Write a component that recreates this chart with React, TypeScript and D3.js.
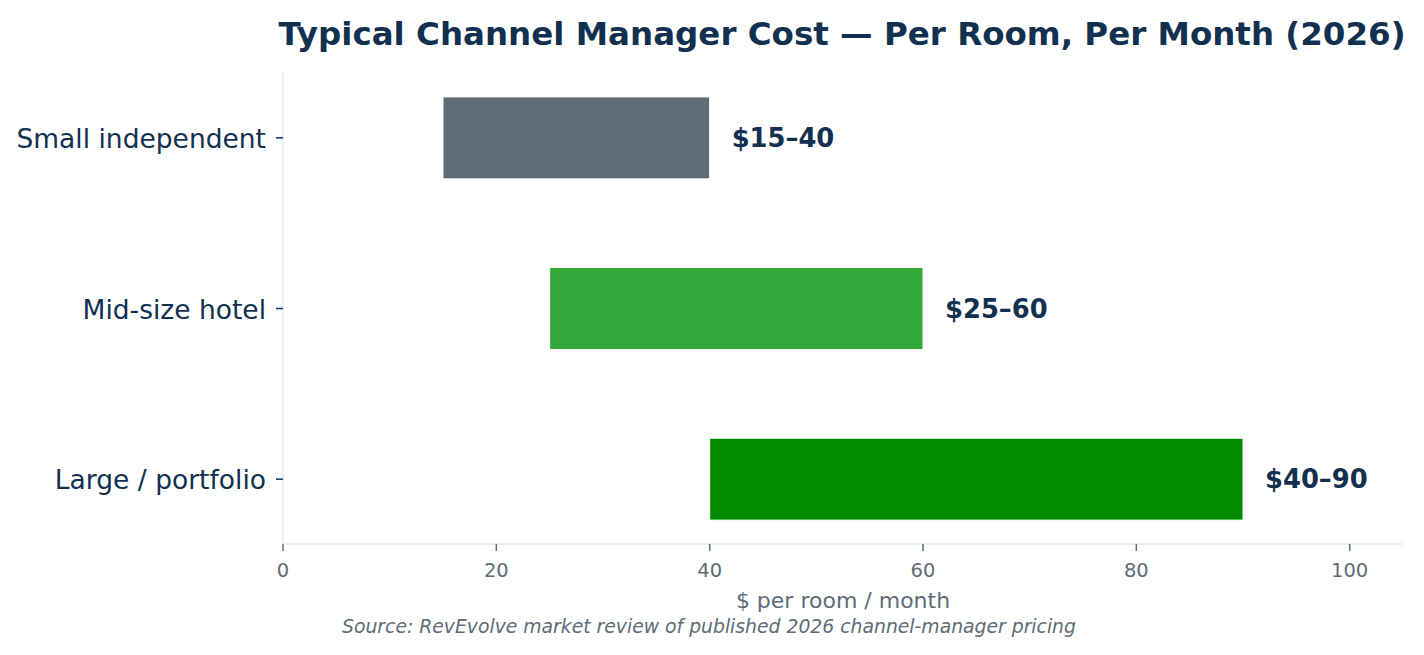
import React from 'react';
import * as d3 from 'd3';

const categories = ['Small independent', 'Mid-size hotel', 'Large / portfolio'];
const lows = [15, 25, 40];
const highs = [40, 60, 90];
const rangeLabels = ['$15–40', '$25–60', '$40–90'];
const barColors = ['#5f6b75', '#34a83a', '#008c00'];
const xTicks = [0, 20, 40, 60, 80, 100];

const W = 1424;
const H = 655;
const NAVY = '#12304f';
const GREY = '#5f6b76';
const FONT = 'DejaVu Sans, sans-serif';

const App: React.FC = () => {
  const x = d3.scaleLinear().domain([0, 105]).range([283, 1403]);
  const y = d3.scaleLinear().domain([-0.38, 2.38]).range([73, 544]);
  const barH = y(0.24) - y(-0.24);

  return (
    <svg width={W} height={H} style={{ display: 'block', position: 'absolute', left: 0, top: 0 }}>
      <rect width={W} height={H} fill="#ffffff" />
      <text x={842} y={45} textAnchor="middle" fontFamily={FONT} fontWeight="bold" fontSize={32.5} fill={NAVY}>
        Typical Channel Manager Cost — Per Room, Per Month (2026)
      </text>

      {/* spines */}
      <line x1={283} x2={283} y1={73} y2={544} stroke="#e6eaee" strokeWidth={1.5} />
      <line x1={283} x2={1403} y1={544} y2={544} stroke="#e6eaee" strokeWidth={1.5} />

      {/* bars */}
      {categories.map((c, i) => (
        <g key={c}>
          <rect
            x={x(lows[i])}
            y={y(i) - barH / 2}
            width={x(highs[i]) - x(lows[i])}
            height={barH}
            fill={barColors[i]}
            stroke="#ffffff"
            strokeWidth={1}
          />
          <text
            x={x(highs[i]) + 22}
            y={y(i)}
            dy="0.35em"
            fontFamily={FONT}
            fontWeight="bold"
            fontSize={25.8}
            fill={NAVY}
          >
            {rangeLabels[i]}
          </text>
          <line x1={276} x2={283} y1={y(i)} y2={y(i)} stroke={NAVY} strokeWidth={1.5} />
          <text x={266} y={y(i) + 1} dy="0.35em" textAnchor="end" fontFamily={FONT} fontSize={26.5} fill={NAVY}>
            {c}
          </text>
        </g>
      ))}

      {/* x ticks */}
      {xTicks.map(t => (
        <g key={t}>
          <line x1={x(t)} x2={x(t)} y1={544} y2={551} stroke={GREY} strokeWidth={1.5} />
          <text x={x(t)} y={577} textAnchor="middle" fontFamily={FONT} fontSize={19.5} fill={GREY}>
            {t}
          </text>
        </g>
      ))}

      <text x={843} y={608} textAnchor="middle" fontFamily={FONT} fontSize={22} fill={GREY}>
        $ per room / month
      </text>
      <text x={709} y={633} textAnchor="middle" fontFamily={FONT} fontStyle="italic" fontSize={18.8} fill={GREY}>
        Source: RevEvolve market review of published 2026 channel-manager pricing
      </text>
    </svg>
  );
};

export default App;
